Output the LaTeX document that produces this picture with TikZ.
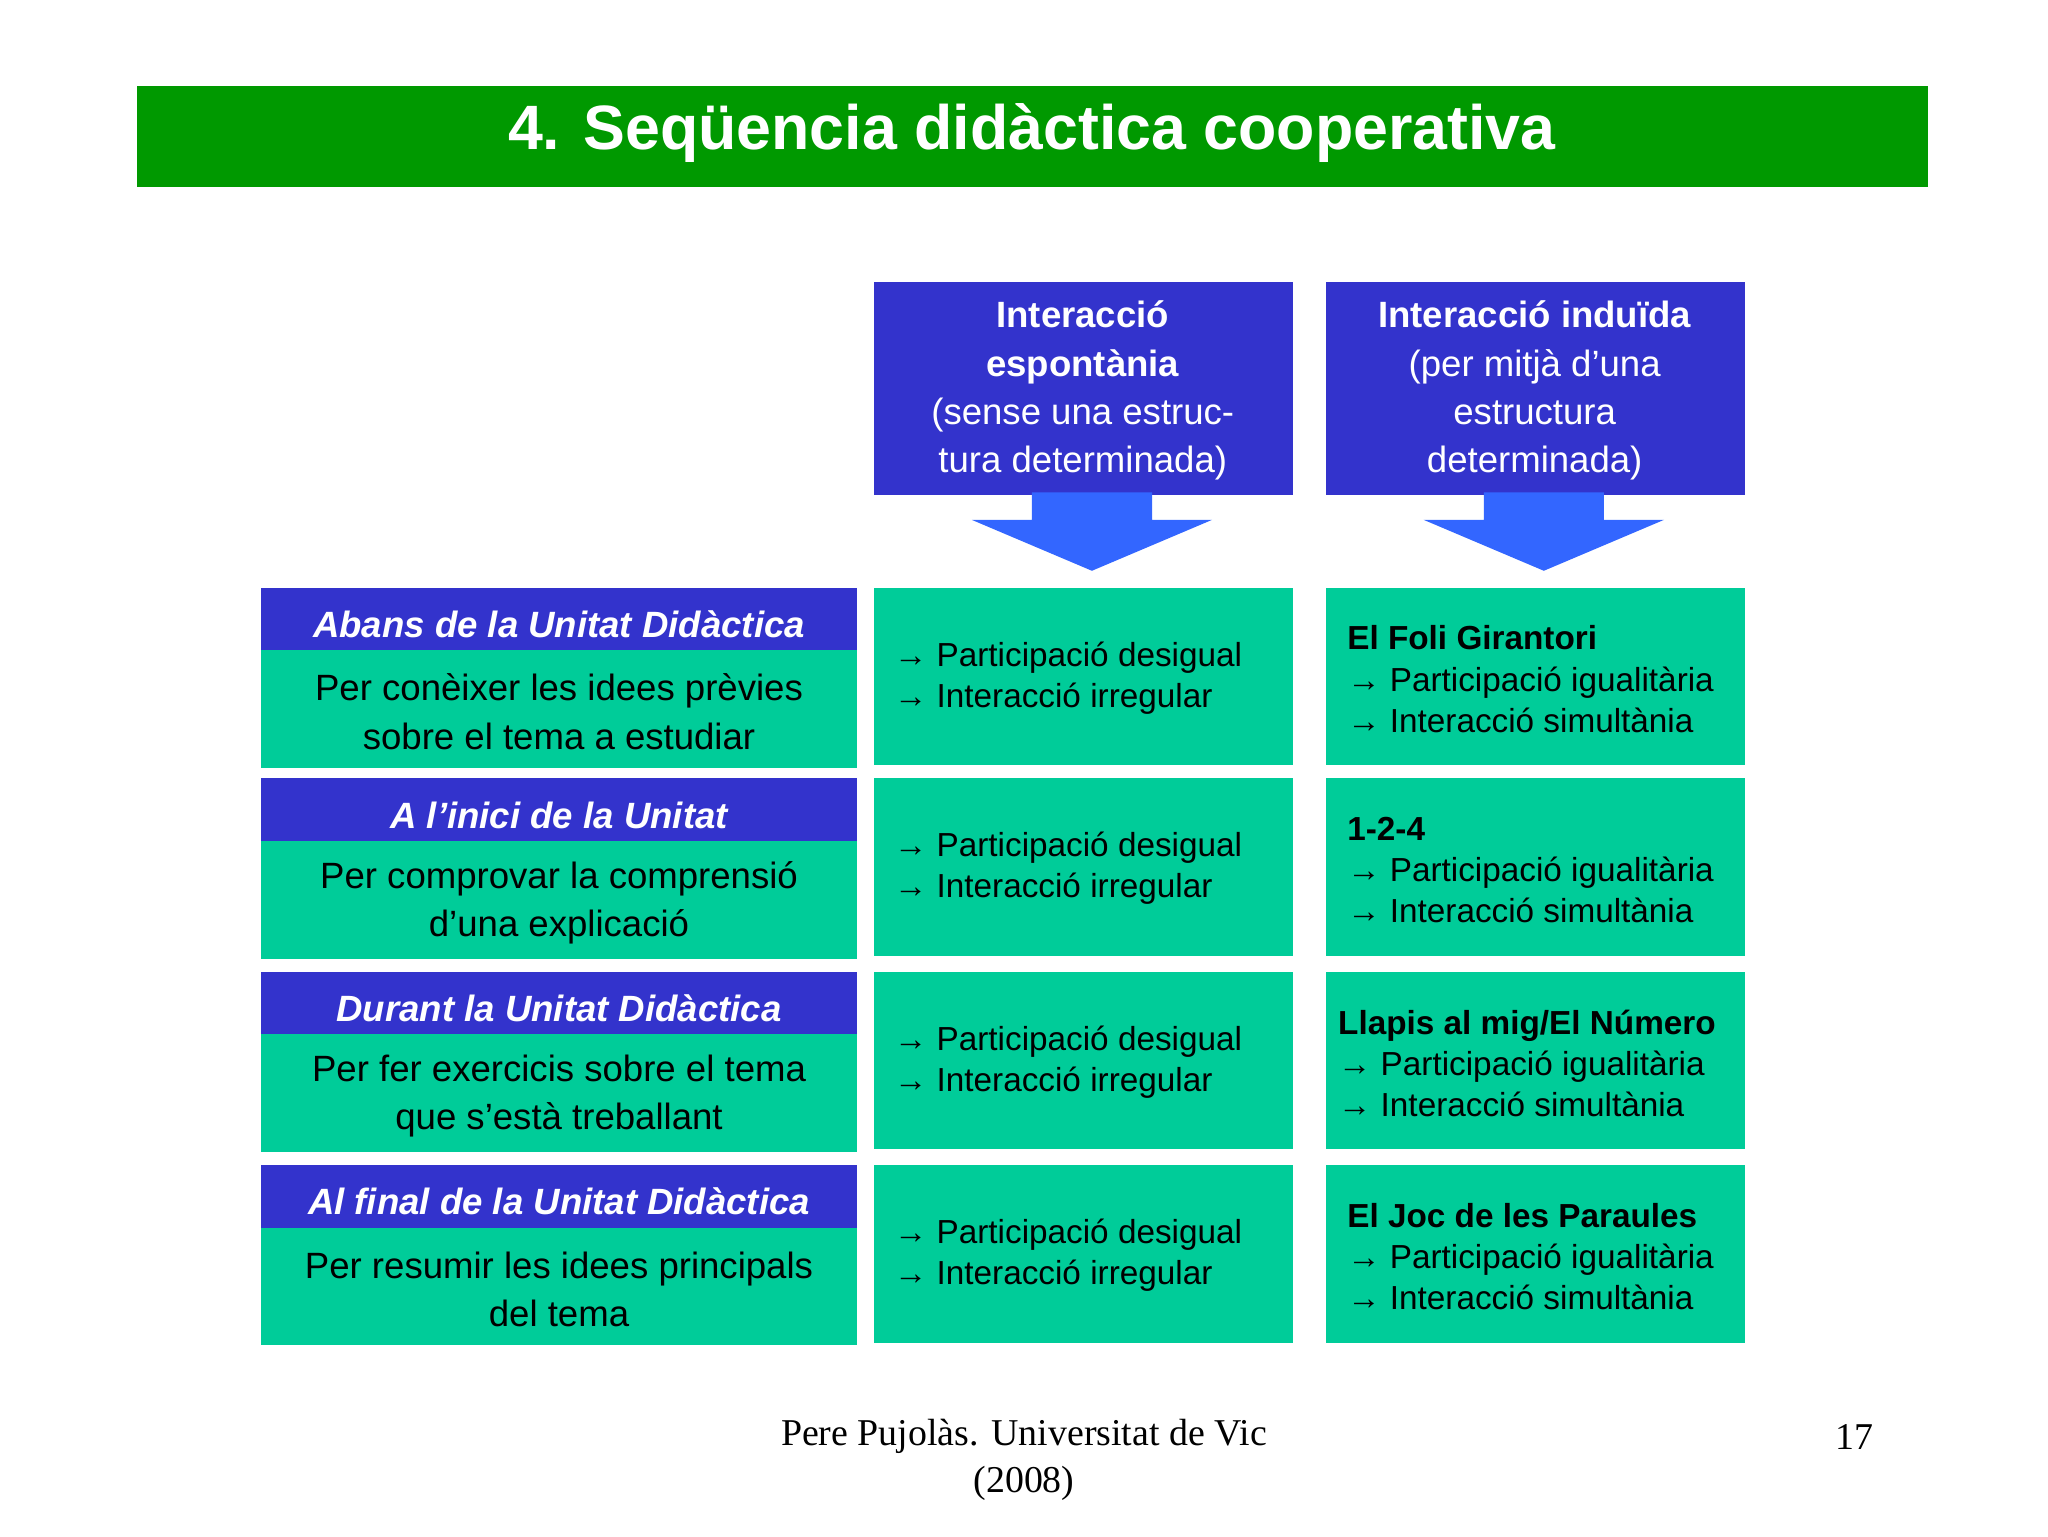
\documentclass[tikz,border=0pt]{standalone}
\usepackage{fontspec}
\setmainfont{Liberation Sans}
\newfontfamily\timesf{Liberation Serif}
\definecolor{tgreen}{HTML}{009900}
\definecolor{hblue}{HTML}{3333CC}
\definecolor{ablue}{HTML}{3366FF}
\definecolor{cgreen}{HTML}{00CC99}
\begin{document}
\begin{tikzpicture}[x=1pt,y=-1pt,
 cell/.style={fill=cgreen,inner sep=0},
 hd/.style={fill=hblue,inner sep=0},
 body/.style={font=\fontsize{28}{37}\selectfont,align=center,text=black},
 lst/.style={font=\fontsize{25.5}{31.5}\selectfont,align=left,text=black,anchor=west},
 hdt/.style={font=\fontsize{28}{37}\selectfont\bfseries\itshape,text=white}]
\useasboundingbox (0,0) rectangle (1568,1176);
\fill[tgreen] (105,66) rectangle (1476,143);
\node[text=white,font=\fontsize{48}{50}\selectfont\bfseries] (title) at (790,102) {4. Seqüencia didàctica cooperativa};
% headers
\fill[hblue] (669,216) rectangle (990,379);
\fill[hblue] (1015,216) rectangle (1336,379);
\node[text=white,align=center,font=\fontsize{28}{37}\selectfont] (h2) at (829,299) {\textbf{Interacció}\\\textbf{espontània}\\(sense una estruc-\\tura determinada)};
\node[text=white,align=center,font=\fontsize{28}{37}\selectfont] (h3) at (1175,299) {\textbf{Interacció induïda}\\(per mitjà d’una\\estructura\\determinada)};
\foreach \c in {836,1182}{
 \fill[ablue] (\c-46,377) -- (\c+46,377) -- (\c+46,398) -- (\c+92,398) -- (\c,437) -- (\c-92,398) -- (\c-46,398) -- cycle;}
% rows
\foreach \y/\h/\b/\s [count=\i] in {
 450/Abans de la Unitat Didàctica/Per conèixer les idees prèvies\\sobre el tema a estudiar/El Foli Girantori,
 596/A l’inici de la Unitat/Per comprovar la comprensió\\d’una explicació/1-2-4,
 744/Durant la Unitat Didàctica/Per fer exercicis sobre el tema\\que s’està treballant/Llapis al mig/El Número,
 892/Al final de la Unitat Didàctica/Per resumir les idees principals\\del tema/El Joc de les Paraules}{
 \fill[cgreen] (200,\y) rectangle (656,\y+138);
 \fill[hblue] (200,\y) rectangle (656,\y+48);
 \fill[cgreen] (669,\y) rectangle (990,\y+136);
 \fill[cgreen] (1015,\y) rectangle (1336,\y+136);
 \node[hdt] (lh\i) at (428,\y+28) {\h};
 \node[body] (lb\i) at (428,\y+95) {\b};
 \node[lst] (m\i) at (681,\y+69) {→ Participació desigual\\→ Interacció irregular};
}
\node[lst] (r1) at (1028,450+70) {\textbf{El Foli Girantori}\\→ Participació igualitària\\→ Interacció simultània};
\node[lst] (r2) at (1028,596+70) {\textbf{1-2-4}\\→ Participació igualitària\\→ Interacció simultània};
\node[lst] (r3) at (1021,744+70) {\textbf{Llapis al mig/El Número}\\→ Participació igualitària\\→ Interacció simultània};
\node[lst] (r4) at (1028,892+70) {\textbf{El Joc de les Paraules}\\→ Participació igualitària\\→ Interacció simultània};
\node[font=\timesf\fontsize{29}{36}\selectfont,align=center] (foot) at (784,1118) {Pere Pujolàs. Universitat de Vic\\(2008)};
\node[font=\timesf\fontsize{29}{36}\selectfont] (pg) at (1420,1100) {17};
\end{tikzpicture}
\end{document}
